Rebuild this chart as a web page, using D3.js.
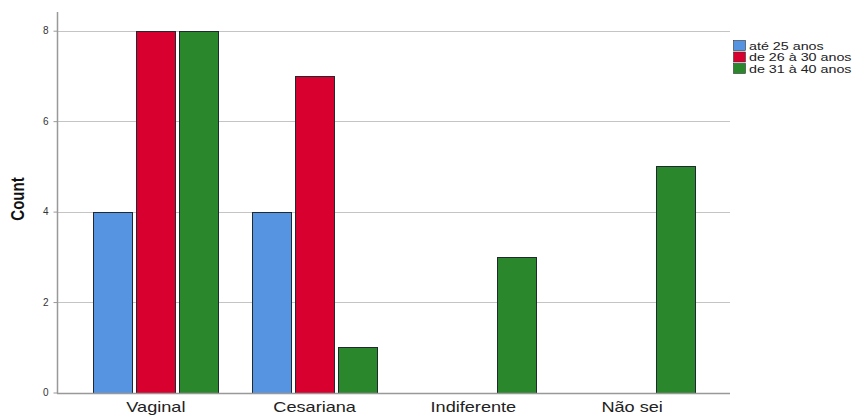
<!DOCTYPE html>
<html><head><meta charset="utf-8">
<script src="https://cdn.jsdelivr.net/npm/d3@7"></script>
<style>body{margin:0;background:#fff}svg{display:block}</style>
</head><body>
<svg id="c" width="861" height="415"></svg>
<script>
const categories = ["Vaginal", "Cesariana", "Indiferente", "Não sei"];
const seriesNames = ["até 25 anos", "de 26 à 30 anos", "de 31 à 40 anos"];
const ate25 = [4, 4, 0, 0];
const de26a30 = [8, 7, 0, 0];
const de31a40 = [8, 1, 3, 5];
const yTicks = [0, 2, 4, 6, 8];
const colors = ["#5694e2", "#d7002f", "#2b872b"];
const seriesValues = [ate25, de26a30, de31a40];

const svg = d3.select("#c");
const x0 = 57, x1 = 730, yTop = 12;
const y = d3.scaleLinear().domain([0, 8]).range([392.5, 30.7]);
const x = d3.scalePoint().domain(categories).range([x0, x1]).padding(0.62);
const xs = d3.scaleBand().domain(seriesNames).range([-62.6, 62.6]).paddingInner(0.106);
const FONT = "Liberation Sans, Arial, sans-serif";

// gridlines
svg.append("g").selectAll("line").data(yTicks.filter(d => d > 0)).join("line")
  .attr("x1", x0).attr("x2", x1)
  .attr("y1", d => Math.round(y(d)) + 0.5).attr("y2", d => Math.round(y(d)) + 0.5)
  .attr("stroke", "#c4c4c4").attr("stroke-width", 1);

// bars
const data = [];
categories.forEach((c, i) => seriesNames.forEach((s, j) => data.push({c, s, j, v: seriesValues[j][i]})));
svg.append("g").selectAll("rect").data(data.filter(d => d.v > 0)).join("rect")
  .attr("x", d => Math.round(x(d.c) + xs(d.s)) + 0.5)
  .attr("y", d => Math.round(y(d.v)) + 0.5)
  .attr("width", Math.round(xs.bandwidth()))
  .attr("height", d => Math.round(y(0)) - Math.round(y(d.v)))
  .attr("fill", d => colors[d.j])
  .attr("stroke", "#1e2a30").attr("stroke-width", 1);

// axes
const yAxis = d3.axisLeft(y).tickValues(yTicks).tickSize(4).tickFormat(d3.format("d"));
const gy = svg.append("g").attr("transform", `translate(${x0 + 0.5},0)`).call(yAxis);
gy.select(".domain").remove();
gy.selectAll(".tick line").attr("stroke", "#999");
gy.selectAll(".tick text").attr("x", -9).attr("font-family", FONT)
  .attr("font-size", 10).attr("fill", "#333");
svg.append("line").attr("x1", x0 + 0.5).attr("x2", x0 + 0.5).attr("y1", yTop).attr("y2", Math.round(y(0)) + 0.5)
  .attr("stroke", "#999").attr("stroke-width", 1.5);
svg.append("line").attr("x1", x0).attr("x2", x1).attr("y1", Math.round(y(0)) + 0.5).attr("y2", Math.round(y(0)) + 0.5)
  .attr("stroke", "#999").attr("stroke-width", 1.5);

const xAxis = d3.axisBottom(x).tickSize(0);
const gx = svg.append("g").attr("transform", `translate(0,${Math.round(y(0))})`).call(xAxis);
gx.select(".domain").remove();
gx.selectAll(".tick text").attr("dy", 0).attr("y", 0)
  .attr("transform", "translate(0,18.5) scale(1.25,1)")
  .attr("font-family", FONT).attr("font-size", 14.5).attr("fill", "#222");

// y label
svg.append("text").attr("transform", "translate(24,199) scale(1.22,1) rotate(-90)")
  .attr("text-anchor", "middle").attr("font-family", "Liberation Sans Narrow, Arial Narrow, Liberation Sans, sans-serif")
  .attr("font-weight", "bold").attr("font-size", 15).attr("fill", "#111").text("Count");

// legend
const lg = svg.append("g").attr("transform", "translate(733,40)");
seriesNames.forEach((s, j) => {
  lg.append("rect").attr("x", 0.5).attr("y", j * 11.5 + 0.5).attr("width", 12).attr("height", 10)
    .attr("fill", colors[j]).attr("stroke", "#333").attr("stroke-width", 0.6);
  lg.append("text").attr("transform", `translate(16,${j * 11.5 + 9.5}) scale(1.3,1)`)
    .attr("font-family", FONT).attr("font-size", 11).attr("fill", "#222").text(s);
});
</script>
</body></html>
